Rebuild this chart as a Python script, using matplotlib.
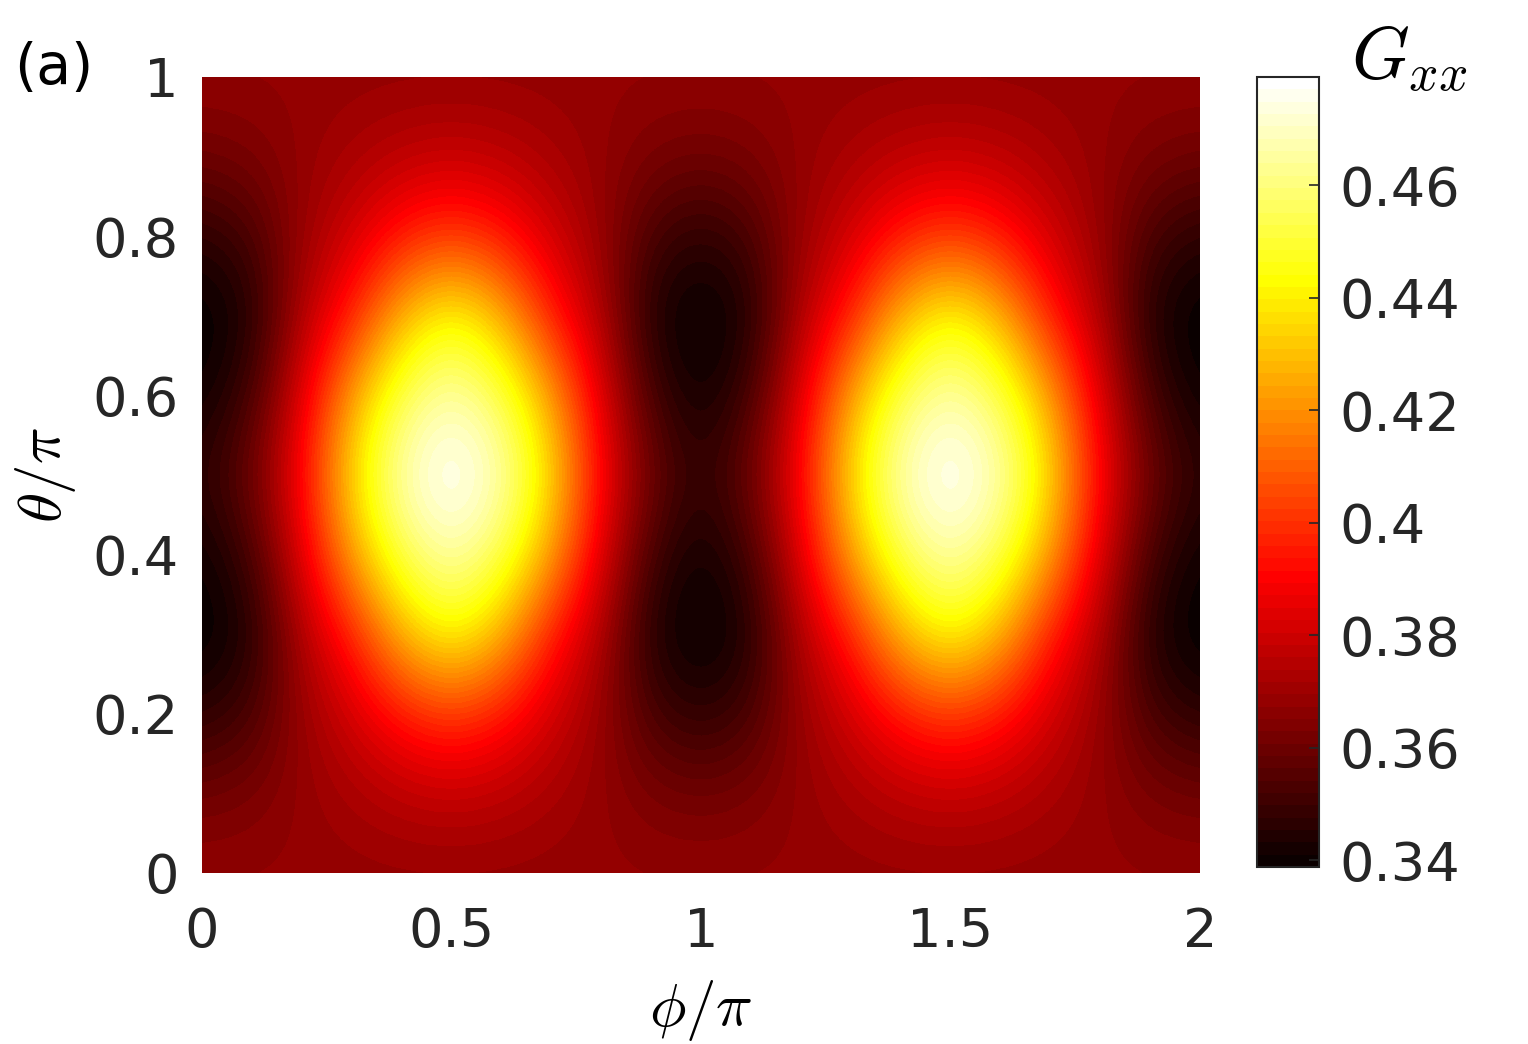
import matplotlib
matplotlib.use("Agg")
import matplotlib.pyplot as plt
import numpy as np
from matplotlib.colors import ListedColormap

# grid positions (in units of pi)
phi = np.linspace(0, 2, 21)
theta = np.linspace(0, 1, 11)

# G_xx, one row per theta value (0 -> 1)
g_t00 = [0.368, 0.368, 0.368, 0.368, 0.368, 0.368, 0.368, 0.368, 0.368, 0.368, 0.368,
         0.368, 0.368, 0.368, 0.368, 0.368, 0.368, 0.368, 0.368, 0.368, 0.368]
g_t01 = [0.361, 0.363, 0.368, 0.372, 0.376, 0.378, 0.376, 0.372, 0.368, 0.363, 0.361,
         0.363, 0.368, 0.372, 0.376, 0.378, 0.376, 0.372, 0.368, 0.363, 0.361]
g_t02 = [0.346, 0.352, 0.369, 0.381, 0.395, 0.402, 0.395, 0.381, 0.369, 0.352, 0.346,
         0.352, 0.369, 0.381, 0.395, 0.402, 0.395, 0.381, 0.369, 0.352, 0.346]
g_t03 = [0.337, 0.343, 0.374, 0.396, 0.428, 0.445, 0.428, 0.396, 0.374, 0.343, 0.337,
         0.343, 0.374, 0.396, 0.428, 0.445, 0.428, 0.396, 0.374, 0.343, 0.337]
g_t04 = [0.340, 0.351, 0.384, 0.424, 0.455, 0.469, 0.455, 0.424, 0.384, 0.351, 0.340,
         0.351, 0.384, 0.424, 0.455, 0.469, 0.455, 0.424, 0.384, 0.351, 0.340]
g_t05 = [0.347, 0.360, 0.391, 0.437, 0.470, 0.481, 0.470, 0.437, 0.391, 0.360, 0.347,
         0.360, 0.391, 0.437, 0.470, 0.481, 0.470, 0.437, 0.391, 0.360, 0.347]
g_t06 = [0.340, 0.351, 0.384, 0.424, 0.455, 0.469, 0.455, 0.424, 0.384, 0.351, 0.340,
         0.351, 0.384, 0.424, 0.455, 0.469, 0.455, 0.424, 0.384, 0.351, 0.340]
g_t07 = [0.337, 0.343, 0.374, 0.396, 0.428, 0.445, 0.428, 0.396, 0.374, 0.343, 0.337,
         0.343, 0.374, 0.396, 0.428, 0.445, 0.428, 0.396, 0.374, 0.343, 0.337]
g_t08 = [0.346, 0.352, 0.369, 0.381, 0.395, 0.402, 0.395, 0.381, 0.369, 0.352, 0.346,
         0.352, 0.369, 0.381, 0.395, 0.402, 0.395, 0.381, 0.369, 0.352, 0.346]
g_t09 = [0.361, 0.363, 0.368, 0.372, 0.376, 0.378, 0.376, 0.372, 0.368, 0.363, 0.361,
         0.363, 0.368, 0.372, 0.376, 0.378, 0.376, 0.372, 0.368, 0.363, 0.361]
g_t10 = [0.368, 0.368, 0.368, 0.368, 0.368, 0.368, 0.368, 0.368, 0.368, 0.368, 0.368,
         0.368, 0.368, 0.368, 0.368, 0.368, 0.368, 0.368, 0.368, 0.368, 0.368]

G = np.array([g_t00, g_t01, g_t02, g_t03, g_t04, g_t05,
              g_t06, g_t07, g_t08, g_t09, g_t10])

xticks = [0, 0.5, 1, 1.5, 2]
xticklabels = ["0", "0.5", "1", "1.5", "2"]
yticks = [0, 0.2, 0.4, 0.6, 0.8, 1]
yticklabels = ["0", "0.2", "0.4", "0.6", "0.8", "1"]
cticks = [0.34, 0.36, 0.38, 0.40, 0.42, 0.44, 0.46]
cticklabels = ["0.34", "0.36", "0.38", "0.4", "0.42", "0.44", "0.46"]
clim = (0.3388, 0.4792)

# MATLAB-style hot(64)
m, n = 64, 24
r = np.concatenate([np.arange(1, n + 1) / n, np.ones(m - n)])
g = np.concatenate([np.zeros(n), np.arange(1, n + 1) / n, np.ones(m - 2 * n)])
b = np.concatenate([np.zeros(2 * n), np.arange(1, m - 2 * n + 1) / (m - 2 * n)])
hot64 = ListedColormap(np.column_stack([r, g, b]))

plt.rcParams["mathtext.fontset"] = "cm"
plt.rcParams["font.family"] = "DejaVu Sans"
tick_color = "#262626"

fig = plt.figure(figsize=(15.28, 10.44), dpi=100)
ax = fig.add_axes([0.1322, 0.1638, 0.6531, 0.7625])

dx = (phi[1] - phi[0]) / 2
dy = (theta[1] - theta[0]) / 2
im = ax.imshow(G, origin="lower", cmap=hot64, vmin=clim[0], vmax=clim[1],
               extent=[phi[0] - dx, phi[-1] + dx, theta[0] - dy, theta[-1] + dy],
               interpolation="bicubic", aspect="auto")
ax.set_xlim(0, 2)
ax.set_ylim(0, 1)
for s in ax.spines.values():
    s.set_visible(False)
ax.set_xticks(xticks)
ax.set_xticklabels(xticklabels)
ax.set_yticks(yticks)
ax.set_yticklabels(yticklabels)
ax.tick_params(axis="x", length=0, pad=24, labelsize=39, labelcolor=tick_color)
ax.tick_params(axis="y", length=0, pad=17, labelsize=39, labelcolor=tick_color)
ax.set_xlabel(r"$\phi/\pi$", fontsize=44, labelpad=14)
ax.set_ylabel(r"$\theta/\pi$", fontsize=44, labelpad=10)

cax = fig.add_axes([0.8226, 0.1695, 0.0406, 0.7567])
cb = fig.colorbar(im, cax=cax)
cb.set_ticks(cticks)
cb.set_ticklabels(cticklabels)
cax.tick_params(direction="in", length=7, width=1.2, pad=15, labelsize=39,
                labelcolor=tick_color, color=tick_color)
cb.outline.set_linewidth(1.5)
cb.outline.set_edgecolor("#262626")
fig.text(0.9225, 0.944, r"$G_{xx}$", fontsize=53, ha="center", va="center")

fig.text(0.035, 0.934, "(a)", fontsize=41, ha="center", va="center", color="black")

fig.savefig("out.png", dpi=100)
